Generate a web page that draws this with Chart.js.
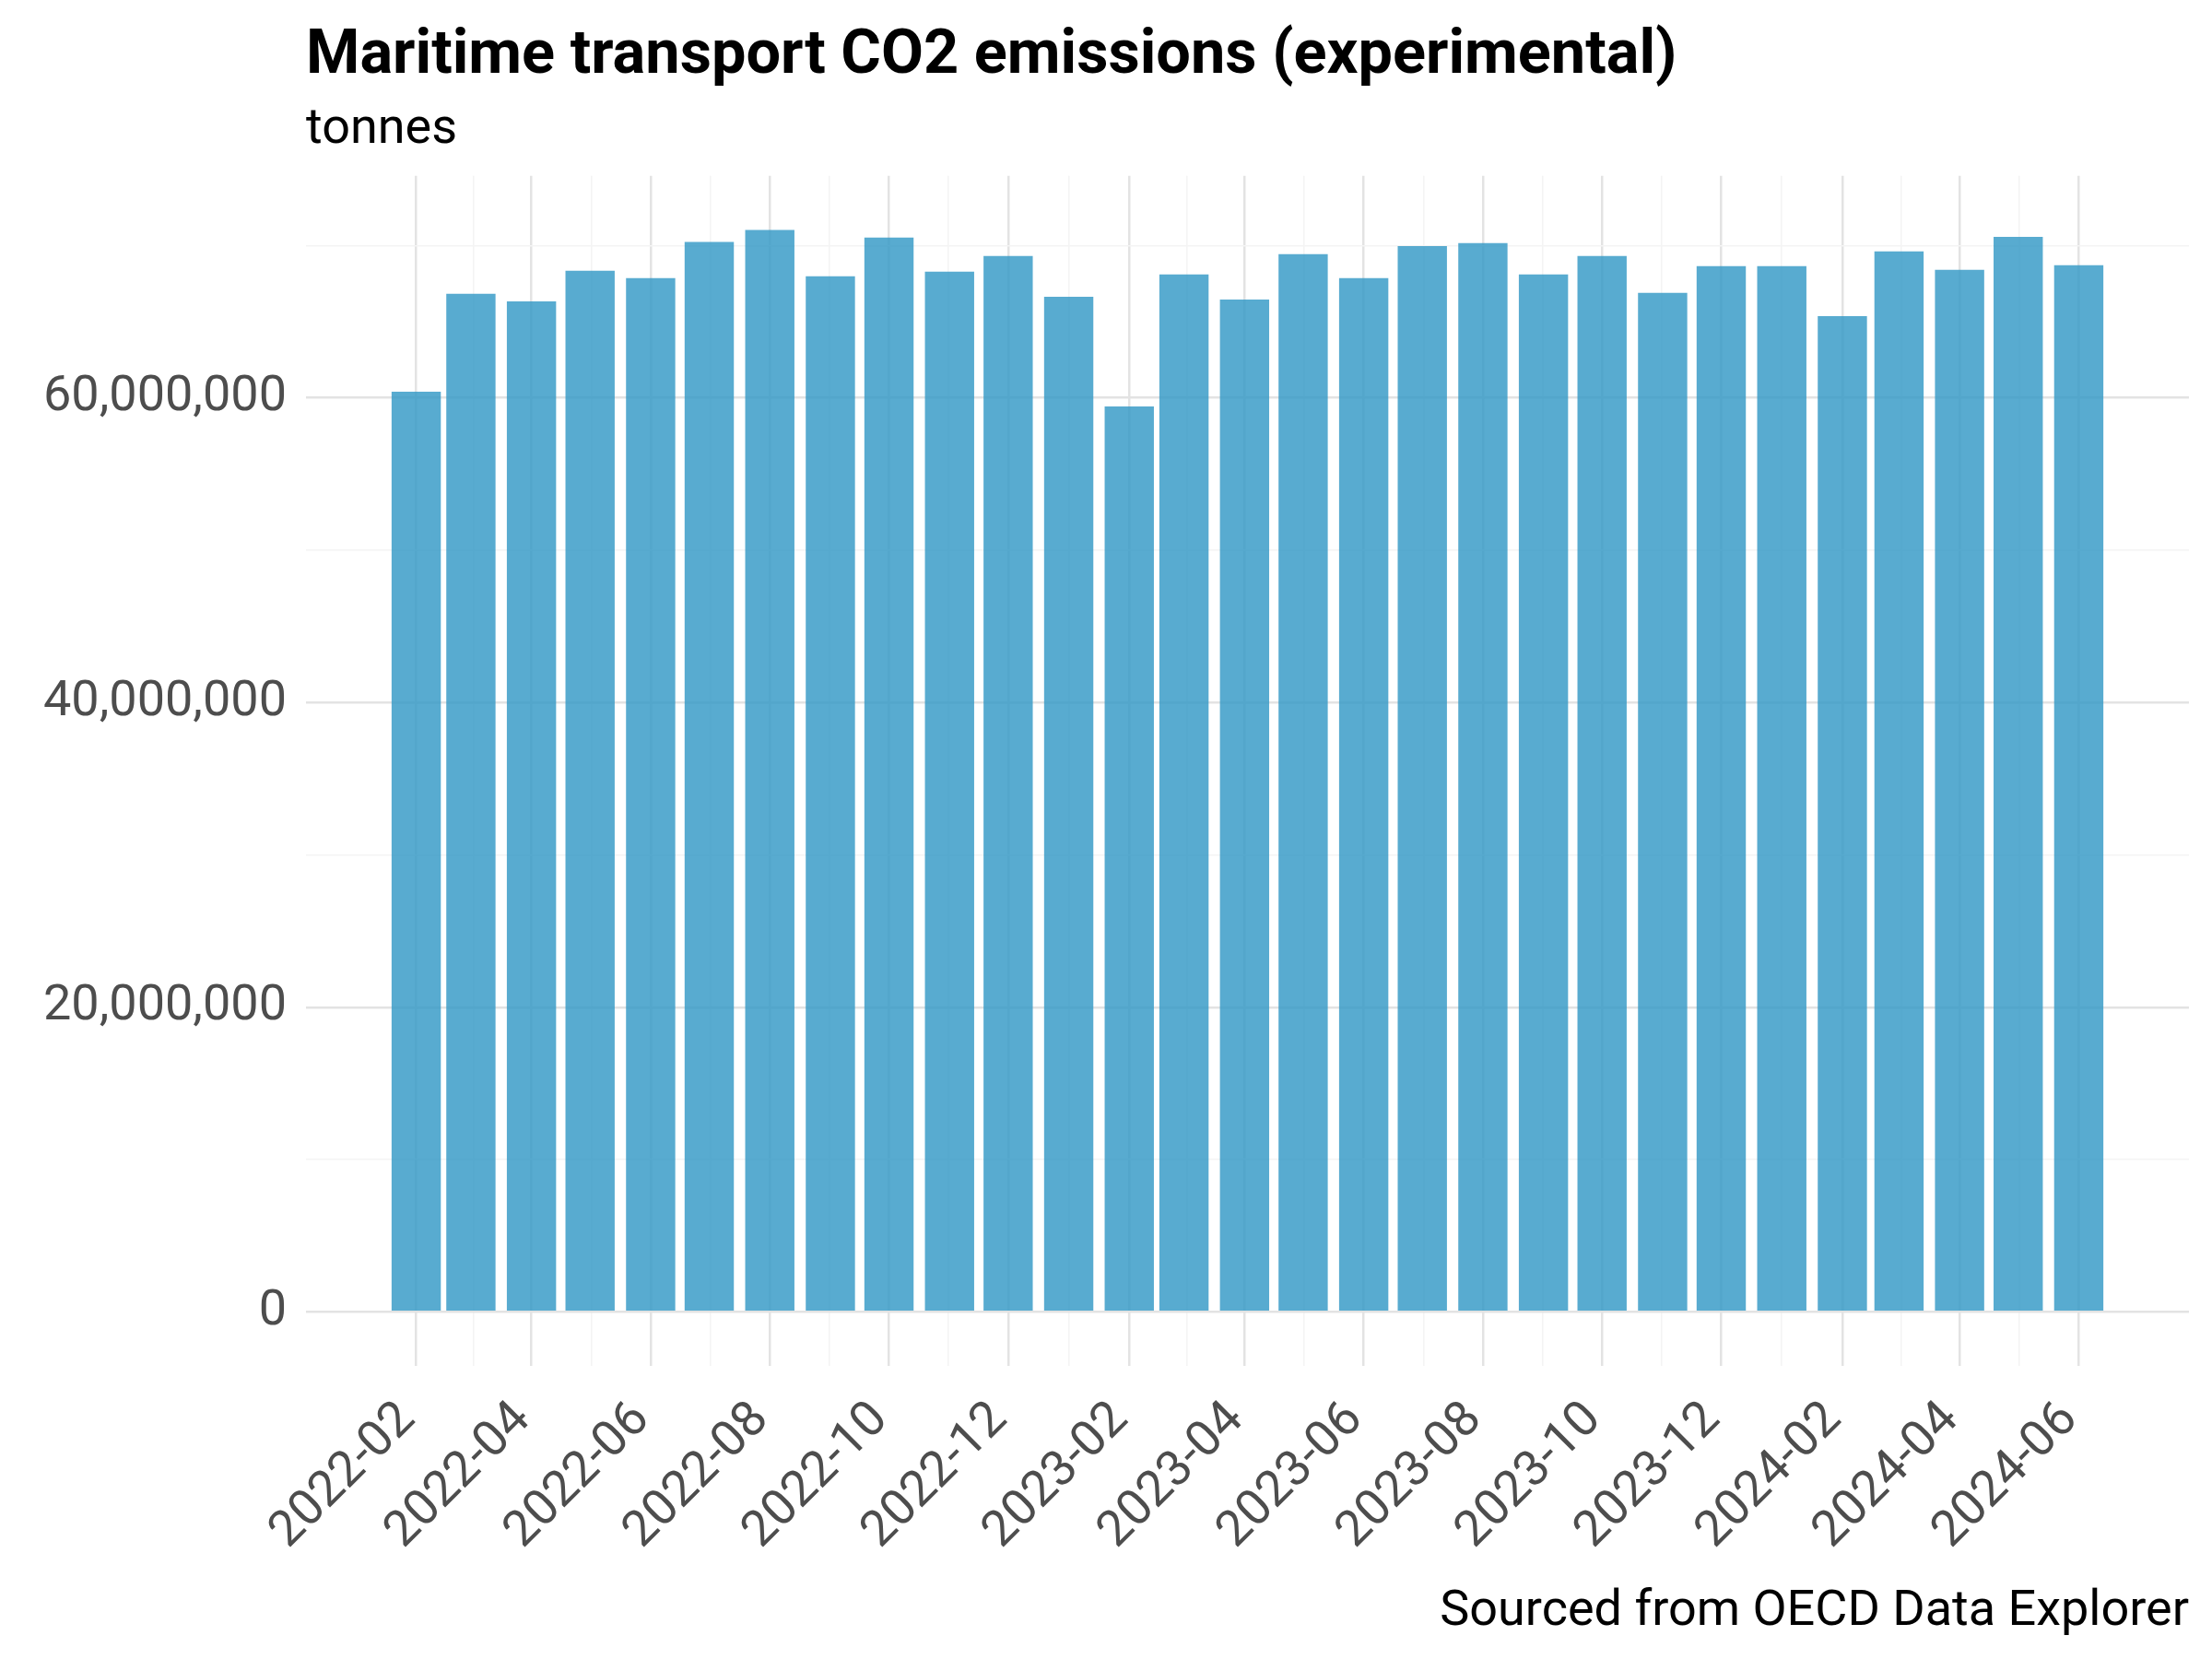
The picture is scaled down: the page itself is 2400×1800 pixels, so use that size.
<!DOCTYPE html>
<html>
<head>
<meta charset="utf-8">
<script src="https://cdn.jsdelivr.net/npm/chart.js@4.4.1/dist/chart.umd.min.js"></script>
<style>
  html, body { margin: 0; padding: 0; background: #fff; }
  #wrap { width: 2400px; height: 1800px; }
</style>
</head>
<body>
<div id="wrap"><canvas id="co2Chart" width="2400" height="1800"></canvas></div>
<script>
// monthly observations (first of month)
const months = [
  '2022-02', '2022-03', '2022-04', '2022-05', '2022-06', '2022-07', '2022-08',
  '2022-09', '2022-10', '2022-11', '2022-12', '2023-01', '2023-02', '2023-03',
  '2023-04', '2023-05', '2023-06', '2023-07', '2023-08', '2023-09', '2023-10',
  '2023-11', '2023-12', '2024-01', '2024-02', '2024-03', '2024-04', '2024-05',
  '2024-06'
];
// tonnes of CO2
const emissions = [
  60400000, 66830000, 66340000, 68350000, 67860000, 70230000, 71020000,
  67980000, 70520000, 68280000, 69310000, 66640000, 59430000, 68100000,
  66460000, 69430000, 67860000, 69970000, 70160000, 68100000, 69310000,
  66890000, 68650000, 68650000, 65370000, 69620000, 68400000, 70570000,
  68710000
];
const xTickLabels = [
  '2022-02', '2022-04', '2022-06', '2022-08', '2022-10', '2022-12', '2023-02',
  '2023-04', '2023-06', '2023-08', '2023-10', '2023-12', '2024-02', '2024-04',
  '2024-06'
];
const yTicks = [0, 10000000, 20000000, 30000000, 40000000, 50000000, 60000000, 70000000];
const yLabelStep = 20000000;

const titleText = 'Maritime transport CO2 emissions (experimental)';
const subtitleText = 'tonnes';
const captionText = 'Sourced from OECD Data Explorer';

// month string -> day number
function toDay(s) {
  const [y, m] = s.split('-').map(Number);
  return Date.UTC(y, m - 1, 1) / 86400000;
}

const points = months.map((m, i) => ({ x: toDay(m), y: emissions[i] }));

// ggplot-like expansion of the scales
const days = points.map(p => p.x);
let minGap = Infinity;
for (let i = 1; i < days.length; i++) minGap = Math.min(minGap, days[i] - days[i - 1]);
const barWidthDays = minGap * 0.9;
const xLo = days[0] - barWidthDays / 2;
const xHi = days[days.length - 1] + barWidthDays / 2;
const xPad = (xHi - xLo) * 0.05;
const yMaxData = Math.max(...emissions);
const yPad = yMaxData * 0.05;

const majorX = xTickLabels.map(toDay);
const xTicks = [];
majorX.forEach((v, i) => {
  xTicks.push({ value: v, label: xTickLabels[i], minor: false });
  if (i < majorX.length - 1) xTicks.push({ value: (v + majorX[i + 1]) / 2, label: '', minor: true });
});

const GRID_MAJOR = '#e3e3e3';
const GRID_MINOR = '#f4f4f4';
const TEXT_GREY = '#4d4d4d';

const captionPlugin = {
  id: 'caption',
  afterDraw(chart) {
    const ctx = chart.ctx;
    ctx.save();
    ctx.font = '54px Roboto';
    ctx.fillStyle = '#000';
    ctx.textAlign = 'right';
    ctx.textBaseline = 'alphabetic';
    ctx.fillText(captionText, chart.chartArea.right, chart.height - 37);
    ctx.restore();
  }
};

new Chart(document.getElementById('co2Chart').getContext('2d'), {
  type: 'bar',
  data: {
    datasets: [{
      label: 'CO2 emissions',
      data: points,
      backgroundColor: 'rgba(46, 150, 196, 0.8)',
      borderWidth: 0,
      categoryPercentage: 0.9,
      barPercentage: 1.0
    }]
  },
  options: {
    responsive: false,
    animation: false,
    devicePixelRatio: 1,
    layout: { padding: { left: 0, right: 25, top: 0, bottom: 0 } },
    plugins: {
      legend: { display: false },
      tooltip: { enabled: false },
      title: {
        display: true,
        text: titleText,
        align: 'start',
        fullSize: false,
        color: '#000',
        font: { family: 'Roboto', size: 66.7, weight: 'bold', lineHeight: 1.2 },
        padding: { top: 22, bottom: 0 }
      },
      subtitle: {
        display: true,
        text: subtitleText,
        align: 'start',
        fullSize: false,
        color: '#000',
        font: { family: 'Roboto', size: 54, lineHeight: 1.2 },
        padding: { top: 7, bottom: 17 }
      }
    },
    scales: {
      x: {
        type: 'linear',
        offset: false,
        min: xLo - xPad,
        max: xHi + xPad,
        border: { display: false },
        grid: {
          offset: false,
          drawTicks: false,
          color: c => (c.tick && c.tick.minor ? GRID_MINOR : GRID_MAJOR),
          lineWidth: c => (c.tick && c.tick.minor ? 1.5 : 2.5)
        },
        afterBuildTicks: scale => { scale.ticks = xTicks.map(t => ({ ...t })); },
        afterFit: scale => { scale.height = 318; },
        ticks: {
          autoSkip: false,
          minRotation: 45,
          maxRotation: 45,
          padding: 27,
          labelOffset: -9,
          color: TEXT_GREY,
          font: { family: 'Roboto', size: 54 },
          callback: (value, index) => xTicks[index].label
        }
      },
      y: {
        type: 'linear',
        min: -yPad,
        max: yMaxData + yPad,
        border: { display: false },
        grid: {
          drawTicks: false,
          color: c => (c.tick && c.tick.value % yLabelStep !== 0 ? GRID_MINOR : GRID_MAJOR),
          lineWidth: c => (c.tick && c.tick.value % yLabelStep !== 0 ? 1.5 : 2.5)
        },
        afterBuildTicks: scale => { scale.ticks = yTicks.map(v => ({ value: v })); },
        afterFit: scale => { scale.width = 332; },
        ticks: {
          padding: 21,
          color: TEXT_GREY,
          font: { family: 'Roboto', size: 54 },
          callback: v => (v % yLabelStep === 0 ? v.toLocaleString('en-US') : '')
        }
      }
    }
  },
  plugins: [captionPlugin]
});
</script>
</body>
</html>
